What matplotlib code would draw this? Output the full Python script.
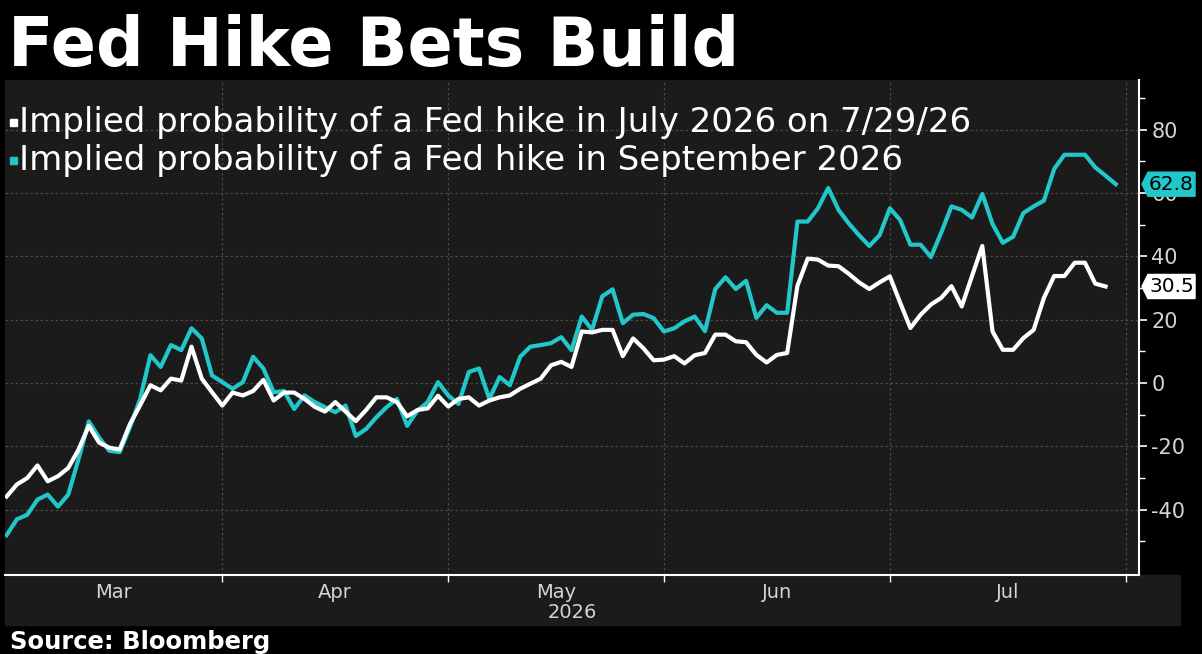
import matplotlib.pyplot as plt
import matplotlib.transforms as mtransforms
from matplotlib.patches import Rectangle
import numpy as np
import pandas as pd

plt.rcParams['axes.unicode_minus'] = False
plt.rcParams['font.family'] = ['DejaVu Sans']

# --- DATA (weekday axis, 2026) ---
dates = pd.bdate_range('2026-03-03', '2026-07-31')

july_hike = [
    # Mar
    -35.8, -32, -30, -26, -31, -29.4, -26.8, -21, -13.5, -18.8, -20.4,
    -21, -13, -7, -0.7, -2.3, 1.4, 0.8, 11.5, 1.4, -2.9,
    # Apr
    -7.1, -3, -3.9, -2.5, 1, -5.5, -3, -3, -5, -7.5, -9,
    -6, -9, -12, -8.5, -4.5, -4.5, -6, -10.5, -8.5, -8, -4,
    # May
    -7.4, -5, -4.5, -7.1, -5.5, -4.5, -3.9, -1.8, -0.2, 1.4, 5.6,
    6.7, 5.1, 16.3, 16, 16.8, 16.8, 8.5, 14.1, 11, 7.2,
    # Jun
    7.4, 8.5, 6.2, 8.8, 9.5, 15.3, 15.3, 13.2, 12.9, 8.9, 6.5,
    8.9, 9.5, 30.7, 39.3, 39, 37.1, 36.9, 34.5, 31.8, 29.7, 31.8,
    # Jul
    33.7, 25.4, 17.4, 21.6, 24.8, 26.9, 30.6, 24.2, 33.8, 43.3, 16.3,
    10.5, 10.5, 14.2, 16.8, 26.9, 33.8, 33.8, 38, 38, 31.4, 30.5,
]

sept_hike = [
    # Mar
    -48, -43, -41.6, -36.8, -35.2, -39, -35.2, -24, -12.1, -17.2, -21.4,
    -21.8, -14, -5, 8.8, 5.1, 12, 10.4, 17.3, 14.1, 2.4,
    # Apr
    0.3, -1.8, 0.3, 8.3, 4.6, -2.9, -2.5, -8.2, -3.9, -6, -7.6,
    -9.2, -7.1, -16.7, -14.5, -10.8, -7.6, -5, -13.5, -8.7, -6, 0.3,
    # May
    -3.9, -6.6, 3.5, 4.6, -5, 1.9, -0.7, 8.3, 11.5, 12, 12.6,
    14.5, 10.4, 21, 16.8, 27.4, 29.6, 18.9, 21.6, 21.8, 20.5,
    # Jun
    16.3, 17.3, 19.5, 21, 16.4, 29.7, 33.4, 29.7, 32.3, 20.6, 24.6,
    22.2, 22.2, 51, 51, 55.2, 61.6, 54.7, 50.4, 46.7, 43.3, 46.7,
    # Jul
    55.2, 51.5, 43.7, 43.7, 39.8, 47.5, 55.8, 54.7, 52.3, 59.7, 50.2,
    44.3, 46.2, 53.7, 55.8, 57.6, 67.6, 72.1, 72.1, 72.1, 68.1, 65.5, 62.8,
]

label_july = 'Implied probability of a Fed hike in July 2026 on 7/29/26'
label_sept = 'Implied probability of a Fed hike in September 2026'
y_ticks = [-40, -20, 0, 20, 40, 60, 80]

CYAN = '#22c7c9'
PANEL = '#1b1b1b'
TICKCOL = '#d4d4d4'

W, H = 1202, 654
fig = plt.figure(figsize=(W / 100, H / 100), dpi=100, facecolor='black')
ax = fig.add_axes([5 / W, 79 / H, 1134 / W, 495 / H])
ax.set_facecolor(PANEL)

# gray band under the x axis (behind the axes and its labels)
fig.patches.append(Rectangle((5 / W, 29 / H), 1175 / W, 50 / H,
                             transform=fig.transFigure, color=PANEL, zorder=-10))

x = np.arange(len(dates))
ax.plot(x[:len(sept_hike)], sept_hike, color=CYAN, lw=3, zorder=3)
ax.plot(x[:len(july_hike)], july_hike, color='white', lw=3, zorder=4)

ax.set_xlim(-0.16, 110.26)
ax.set_ylim(-60.6, 95.7)

# month boundaries on the weekday axis
edges = [i for i in range(1, len(dates)) if dates[i].month != dates[i - 1].month]
edges.append(len(dates))
starts = [ax.get_xlim()[0]] + edges[:-1]
centers = [(a + b) / 2 for a, b in zip(starts, edges)]
month_names = [d.strftime('%b') for d in
               [dates[0]] + [dates[i] for i in edges[:-1]]]

ax.set_xticks(edges)
ax.set_xticklabels([])
ax.set_xticks(centers, minor=True)
ax.set_xticklabels(month_names, minor=True)
ax.tick_params(axis='x', which='major', length=5, width=1, color='white')
ax.tick_params(axis='x', which='minor', length=0, pad=6,
               labelsize=14, labelcolor=TICKCOL)

ax.yaxis.tick_right()
ax.set_yticks(y_ticks)
ax.set_yticks([t + 10 for t in range(-60, 81, 20)], minor=True)
ax.tick_params(axis='y', which='major', length=6, width=1.2, color='white',
               labelsize=15, labelcolor=TICKCOL, pad=3)
ax.tick_params(axis='y', which='minor', length=4, width=1, color='white')

ax.grid(axis='y', which='major', color='#4a4a4a', linestyle=(0, (2, 2)), lw=0.9)
ax.grid(axis='x', which='major', color='#4a4a4a', linestyle=(0, (2, 2)), lw=0.9)

for side in ['left', 'top']:
    ax.spines[side].set_visible(False)
for side in ['right', 'bottom']:
    ax.spines[side].set_color('white')
    ax.spines[side].set_linewidth(1.5)

ax.text(0.5, -0.075, '2026', transform=ax.transAxes, ha='center', va='center',
        fontsize=14, color=TICKCOL)

# last-value tags on the right axis
trans = mtransforms.blended_transform_factory(ax.transAxes, ax.transData)
for series, col in [(sept_hike, CYAN), (july_hike, 'white')]:
    v = series[-1]
    ax.fill([1.0026, 1.0079, 1.0494, 1.0494, 1.0079],
            [v, v + 3.8, v + 3.8, v - 3.8, v - 3.8],
            color=col, transform=trans, clip_on=False, zorder=5)
    ax.text(1.0287, v, f'{v}', transform=trans, ha='center', va='center',
            fontsize=14.5, color='black', zorder=6, clip_on=False)

# legend
for i, (lab, col) in enumerate([(label_july, 'white'), (label_sept, CYAN)]):
    yb = 1 - (132 + 38 * i) / H
    fig.text(19 / W, yb, lab, fontsize=24.5, color='white', va='baseline')
    fig.patches.append(Rectangle((10 / W, yb + 6 / H), 7 / W, 7 / H,
                                 transform=fig.transFigure, color=col, zorder=5))

fig.text(8 / W, 1 - 66 / H, 'Fed Hike Bets Build', fontsize=48,
         fontweight='bold', color='white', va='baseline')
fig.text(10 / W, 5 / H, 'Source: Bloomberg', fontsize=17.5,
         fontweight='bold', color='white', va='baseline')

fig.savefig('out.png', dpi=100, facecolor='black')
